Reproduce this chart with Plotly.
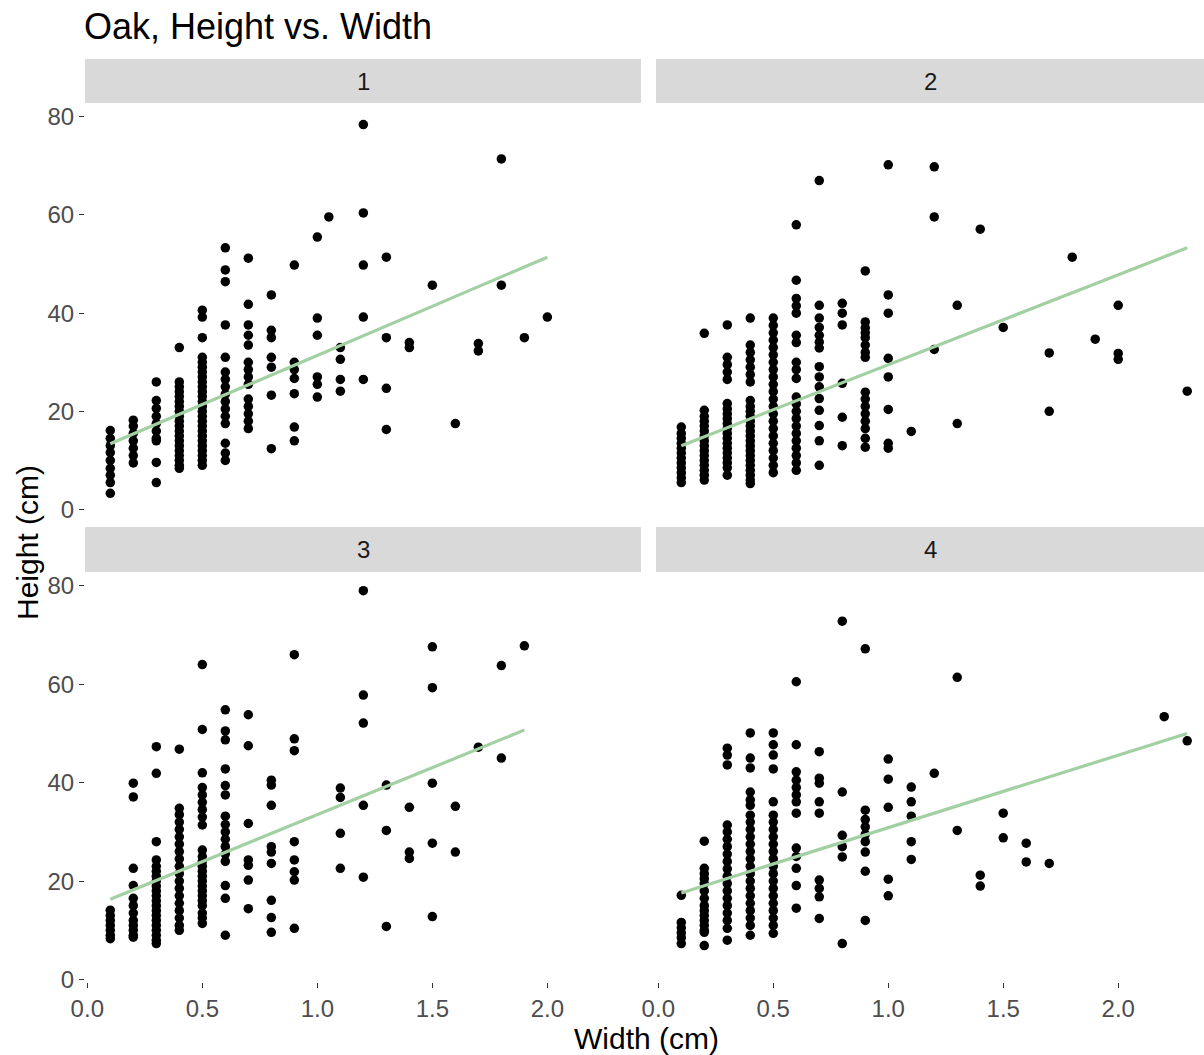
import plotly.graph_objects as go

# ---------------- data (width in cm -> list of heights in cm) ----------------
oak1 = {
    0.1: [16.1, 14.5, 13, 11.6, 10, 8.4, 7, 5.5, 3.3],
    0.2: [18.2, 17, 15.5, 14, 12.5, 11, 9.5],
    0.3: [26, 22.2, 20.6, 19, 17.5, 16, 14.5, 14, 9.6, 5.5],
    0.4: [33, 26, 25, 24, 23, 22, 21, 20, 19, 18, 17, 16, 15, 14, 13, 12, 11, 10, 9, 8.4],
    0.5: [40.6, 39.2, 35, 31, 30, 29, 28, 27, 26, 25, 24, 23, 22, 21, 20, 19, 18, 17, 16, 15, 14, 13, 12, 11, 10, 9],
    0.6: [53.3, 48.8, 46.4, 37.6, 31, 28, 26.5, 25, 23.5, 22, 20.5, 19, 17.5, 13.5, 11.5, 10],
    0.7: [51.2, 41.8, 37.6, 35.5, 33.5, 30, 28.5, 27, 25.5, 22.5, 21, 19.5, 18, 16.5],
    0.8: [43.7, 36.5, 35, 31, 29, 23.3, 12.4],
    0.9: [49.8, 30, 28.5, 26.7, 23.6, 16.8, 14],
    1.0: [55.5, 39, 35.5, 27, 25.5, 22.9],
    1.05: [59.6],
    1.1: [33, 30.6, 26.5, 24.1],
    1.2: [78.4, 60.4, 49.8, 39.2, 26.5],
    1.3: [51.4, 35, 24.7, 16.3],
    1.4: [34, 33],
    1.5: [45.7],
    1.6: [17.5],
    1.7: [33.8, 32.3],
    1.8: [71.4, 45.7],
    1.9: [35],
    2.0: [39.2],
}
oak2 = {
    0.1: [16.8, 15.5, 14.5, 13.5, 12.5, 11.5, 10.5, 9.5, 8.5, 7.5, 6.5, 5.5],
    0.2: [35.9, 20.2, 19, 18, 17, 16, 15, 14, 13, 12, 11, 10, 9, 8, 7, 6],
    0.3: [37.6, 31, 29.5, 28, 26.5, 21.6, 20.5, 19.5, 18.5, 17.5, 16.5, 15.5, 14.5, 13.5, 12.5, 11.5, 10.5, 9.5, 8.5, 7],
    0.4: [39, 33.5, 32, 30.5, 29, 27.5, 26, 22.2, 21, 20, 19, 18, 17, 16, 15, 14, 13, 12, 11, 10, 9, 8, 7, 6, 5.3],
    0.5: [39, 37.5, 36, 34.5, 33, 31.5, 30, 28.5, 27, 25.5, 24, 22.5, 21, 19.5, 18, 16.5, 15, 13.5, 12, 10.5, 9, 7.5],
    0.6: [58, 46.7, 43, 41.5, 40, 35.5, 34, 30, 28.5, 26.7, 22.9, 21.5, 20, 18.5, 17, 15.5, 14, 12.5, 11, 9.5, 8],
    0.7: [67, 41.6, 39, 37.1, 35.5, 34.1, 32.9, 29.1, 27, 25, 22.6, 20.2, 17.1, 14, 9],
    0.8: [42, 40, 37.6, 25.7, 18.8, 13],
    0.9: [48.6, 38.2, 37, 36, 35, 33.5, 32, 31, 23.9, 22.5, 21, 19.5, 18, 16.5, 14.5, 12.7],
    1.0: [70.2, 43.7, 40, 30.8, 27, 20.4, 13.5, 12.5],
    1.1: [15.9],
    1.2: [69.8, 59.6, 32.6],
    1.3: [41.6, 17.5],
    1.4: [57.1],
    1.5: [37.1],
    1.7: [31.9, 20],
    1.8: [51.4],
    1.9: [34.7],
    2.0: [41.6, 31.8, 30.6],
    2.3: [24.1],
}
oak3 = {
    0.1: [14.1, 13, 12, 11, 10, 9, 8.3],
    0.2: [39.9, 37.1, 22.6, 19.1, 16.5, 15, 13.5, 12, 11, 10, 9, 8.6],
    0.3: [47.3, 41.9, 28, 24.3, 23, 22, 21, 20, 19, 18, 17, 16, 15, 14, 13, 12, 11, 10, 9, 8, 7.3],
    0.4: [46.8, 34.8, 33.5, 32, 30.5, 29, 27.5, 26, 24.5, 23, 21.5, 20, 18.5, 17, 15.5, 14, 12.5, 11, 10],
    0.5: [64, 50.8, 42, 39, 37.5, 36, 34.5, 33, 31.4, 26.3, 25, 24, 23, 22, 21, 20, 19, 18, 17, 16, 15, 13.5, 12.5, 11.4],
    0.6: [54.8, 50.5, 48.7, 42.8, 39.4, 37.5, 33.2, 31.5, 30, 28.5, 27, 25.5, 24, 19.1, 16.5, 9],
    0.7: [53.8, 47.5, 31.7, 24.3, 23.2, 20.2, 14.4],
    0.8: [40.5, 39.5, 35.4, 27, 25.9, 23.6, 16.1, 12.6, 9.6],
    0.9: [66, 48.9, 46.5, 28, 24.3, 21.9, 20.2, 10.4],
    1.1: [38.9, 37, 29.7, 22.6],
    1.2: [79, 57.8, 52.1, 35.4, 20.8],
    1.3: [39.5, 30.3, 10.8],
    1.4: [35, 25.9, 24.6],
    1.5: [67.6, 59.3, 39.9, 27.7, 12.8],
    1.6: [35.2, 25.9],
    1.7: [47.2],
    1.8: [63.8, 45],
    1.9: [67.8],
}
oak4 = {
    0.1: [17.1, 11.6, 10.5, 9.5, 8.5, 7.3],
    0.2: [28.1, 22.6, 21.5, 20.5, 19.5, 18, 16.5, 15, 14, 13, 12, 11, 10, 9.6, 6.9],
    0.3: [47, 45.6, 43.6, 31.4, 30, 28.5, 27, 25.5, 24, 22.5, 21, 19.5, 18, 16.5, 15, 13.5, 12, 10.4, 8],
    0.4: [50.1, 45, 43, 38.1, 36.5, 35.4, 33.4, 32, 30.5, 29, 27.5, 26, 24.5, 23, 21.5, 20, 18.5, 17, 15.5, 14, 12.5, 11, 9],
    0.5: [50.1, 47.7, 45.6, 42.8, 36.1, 33.4, 32, 30.5, 29, 27.5, 26, 24.5, 23, 21.5, 20, 18.5, 17, 15.5, 14, 12.5, 11, 9.4],
    0.6: [60.5, 47.7, 42.2, 40.5, 39, 37.5, 36.1, 33.8, 26.7, 25, 22.6, 19.1, 14.5],
    0.7: [46.3, 40.9, 39.9, 36.1, 33.8, 20.2, 18.5, 16.8, 12.4],
    0.8: [72.8, 38.1, 29.3, 27, 24.9, 7.3],
    0.9: [67.2, 34.4, 32.5, 31, 29.5, 28, 25.9, 22, 12],
    1.0: [44.8, 40.7, 35, 20.4, 17],
    1.1: [39.1, 36.1, 33.2, 28, 24.4],
    1.2: [41.9],
    1.3: [61.4, 30.3],
    1.4: [21.2, 19],
    1.5: [33.8, 28.8],
    1.6: [27.7, 23.9],
    1.7: [23.6],
    2.2: [53.4],
    2.3: [48.5],
}

# fitted trend lines (end points)
fit1_x, fit1_y = [0.1, 2.0], [13.4, 51.4]
fit2_x, fit2_y = [0.1, 2.3], [13.0, 53.3]
fit3_x, fit3_y = [0.1, 1.9], [16.3, 50.7]
fit4_x, fit4_y = [0.1, 2.3], [17.6, 50.0]

facet_labels = ["1", "2", "3", "4"]
x_ticks = [0.0, 0.5, 1.0, 1.5, 2.0]
x_tick_text = ["0.0", "0.5", "1.0", "1.5", "2.0"]
y_ticks = [0, 20, 40, 60, 80]
y_tick_text = ["0", "20", "40", "60", "80"]

# ---------------- figure ----------------
W, H = 1204, 1055
FONT = "Liberation Sans, Arial, Helvetica, sans-serif"
POINT = "#000000"
LINE = "#a2d0a2"

fig = go.Figure()

panels = [
    (oak1, fit1_x, fit1_y, "x", "y"),
    (oak2, fit2_x, fit2_y, "x2", "y2"),
    (oak3, fit3_x, fit3_y, "x3", "y3"),
    (oak4, fit4_x, fit4_y, "x4", "y4"),
]
for data, fx, fy, xa, ya in panels:
    xs, ys = [], []
    for w, hs in data.items():
        for h in hs:
            xs.append(w)
            ys.append(h)
    fig.add_trace(go.Scatter(x=xs, y=ys, mode="markers", xaxis=xa, yaxis=ya,
                             marker=dict(color=POINT, size=9.5, line=dict(width=0)),
                             showlegend=False, hoverinfo="x+y", cliponaxis=False))
    fig.add_trace(go.Scatter(x=fx, y=fy, mode="lines", xaxis=xa, yaxis=ya,
                             line=dict(color=LINE, width=3.2),
                             showlegend=False, hoverinfo="skip", cliponaxis=False))

# pixel helpers
def px_x(p):
    return p / W

def px_y(p):
    return 1 - p / H

left_dom = [px_x(85), px_x(641)]
right_dom = [px_x(656), 1.0]
top_dom = [px_y(512), px_y(103)]
bot_dom = [px_y(982), px_y(572)]

yr = [-0.5, 82.8]
xr_left = [-0.01, 2.407]
xr_right = [-0.01, 2.373]

tickfont = dict(family=FONT, size=24, color="#4d4d4d")

def xaxis(dom, rng, anchor, labels):
    return dict(domain=dom, range=rng, anchor=anchor, showgrid=False, zeroline=False,
                showline=False, ticks="outside" if labels else "", ticklen=5, tickwidth=1,
                tickcolor="#333333", tickvals=x_ticks, ticktext=x_tick_text,
                showticklabels=labels, tickfont=tickfont, fixedrange=True,
                automargin=False)

def yaxis(dom, anchor, labels):
    return dict(domain=dom, range=yr, anchor=anchor, showgrid=False, zeroline=False,
                showline=False, ticks="outside" if labels else "", ticklen=5, tickwidth=1,
                tickcolor="#333333", tickvals=y_ticks, ticktext=y_tick_text,
                showticklabels=labels, tickfont=tickfont, fixedrange=True,
                automargin=False)

fig.update_layout(
    width=W, height=H, autosize=False,
    margin=dict(l=0, r=0, t=0, b=0, pad=0),
    paper_bgcolor="white", plot_bgcolor="white",
    font=dict(family=FONT, color="#000000"),
    xaxis=xaxis(left_dom, xr_left, "y", False),
    yaxis=yaxis(top_dom, "x", True),
    xaxis2=xaxis(right_dom, xr_right, "y2", False),
    yaxis2=yaxis(top_dom, "x2", False),
    xaxis3=xaxis(left_dom, xr_left, "y3", True),
    yaxis3=yaxis(bot_dom, "x3", True),
    xaxis4=xaxis(right_dom, xr_right, "y4", True),
    yaxis4=yaxis(bot_dom, "x4", False),
)

# facet strips
strips = [
    (85, 641, 59, 103, facet_labels[0]),
    (656, 1204, 59, 103, facet_labels[1]),
    (85, 641, 527, 572, facet_labels[2]),
    (656, 1204, 527, 572, facet_labels[3]),
]
shapes, annotations = [], []
for x0, x1, y0, y1, lab in strips:
    shapes.append(dict(type="rect", xref="paper", yref="paper",
                       x0=px_x(x0), x1=px_x(x1), y0=px_y(y1), y1=px_y(y0),
                       fillcolor="#d9d9d9", line=dict(width=0), layer="below"))
    annotations.append(dict(text=lab, xref="paper", yref="paper",
                            x=px_x((x0 + x1) / 2), y=px_y((y0 + y1) / 2),
                            xanchor="center", yanchor="middle", showarrow=False,
                            font=dict(family=FONT, size=24, color="#1a1a1a")))

annotations.append(dict(text="Oak, Height vs. Width", xref="paper", yref="paper",
                        x=px_x(82), y=px_y(26), xanchor="left", yanchor="middle",
                        showarrow=False, font=dict(family=FONT, size=36, color="#000000")))
annotations.append(dict(text="Width (cm)", xref="paper", yref="paper",
                        x=px_x(646), y=px_y(1038), xanchor="center", yanchor="middle",
                        showarrow=False, font=dict(family=FONT, size=30, color="#000000")))
annotations.append(dict(text="Height (cm)", xref="paper", yref="paper",
                        x=px_x(27), y=px_y(543), xanchor="center", yanchor="middle",
                        textangle=-90, showarrow=False,
                        font=dict(family=FONT, size=30, color="#000000")))

fig.update_layout(shapes=shapes, annotations=annotations)

fig.write_html("out.html")
